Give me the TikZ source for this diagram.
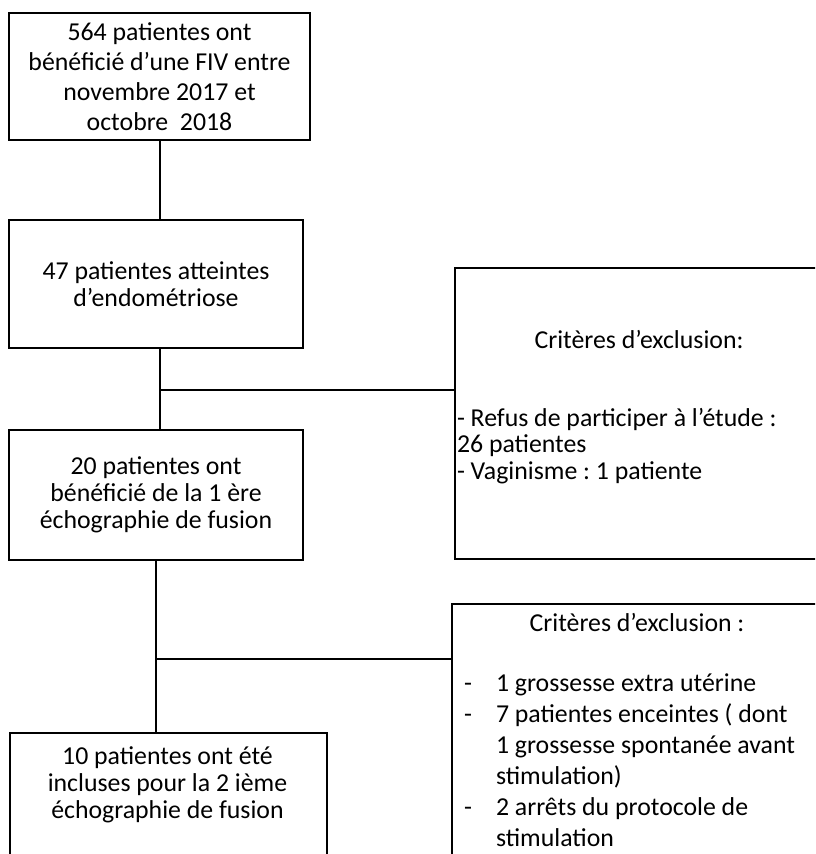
\documentclass[tikz,border=0pt]{standalone}
\usepackage{fontspec}
\setmainfont{Carlito}
\usetikzlibrary{positioning}
\frenchspacing
\newcommand{\itemdash}{\makebox[16pt][l]{-}}
\tikzset{%
    box/.style={draw, line width=1pt, inner sep=0pt, align=center,
        font=\fontsize{12.9}{13.5}\selectfont},
    txt/.style={inner sep=0pt, align=center,
        font=\fontsize{12.9}{13.5}\selectfont}
}

\begin{document}
\begin{tikzpicture}[x=0.5pt,y=-0.5pt,line width=1pt]
    \clip (0,0) rectangle (815,854);
    % left column
    \node[box,minimum width=150.5pt,minimum height=63.5pt,font=\fontsize{12.9}{15}\selectfont] (fiv) at (159.5,76.5) {564 patientes ont\\bénéficié d’une FIV entre\\novembre 2017 et\\octobre \ 2018};
    \node[box,minimum width=147pt,minimum height=64pt] (endo) at (156,284) {47 patientes atteintes\\d’endométriose};
    \node[box,minimum width=147pt,minimum height=65pt] (fus1) at (156,495) {20 patientes ont\\bénéficié de la 1 ère\\échographie de fusion};
    \node[box,anchor=north west,minimum width=158.5pt,minimum height=80pt] (fus2) at (9,732) {};
    \node[txt] (fus2txt) at (167.5,785) {10 patientes ont été\\incluses pour la 2 ième\\échographie de fusion};
    % exclusion boxes
    \node[box,anchor=north west,minimum width=185.5pt,minimum height=145.5pt] (excl1) at (454,267) {};
    \node[txt] (excl1head) at (639,340) {Critères d’exclusion:};
    \node[txt,anchor=west,align=left,font=\fontsize{12.9}{13.25}\selectfont] (excl1list) at (456,446) {- Refus de participer à l’étude :\\26 patientes\\- Vaginisme : 1 patiente};
    \node[box,anchor=north west,minimum width=187pt,minimum height=140pt] (excl2) at (451,603) {};
    \node[txt] (excl2head) at (637,622) {Critères d’exclusion :};
    \node[txt,anchor=west,align=left,font=\fontsize{12.9}{15.5}\selectfont] (excl2list) at (463,760) {\itemdash 1 grossesse extra utérine\\\itemdash 7 patientes enceintes ( dont\\\hspace*{16pt}1 grossesse spontanée avant\\\hspace*{16pt}stimulation)\\\itemdash 2 arrêts du protocole de\\\hspace*{16pt}stimulation};
    % connectors
    \coordinate (spine) at (160,0);
    \coordinate (br1) at (160,390);
    \coordinate (br2) at (156,659);
    \draw (spine |- fiv.south) -- (spine |- endo.north);
    \draw (spine |- endo.south) -- (spine |- fus1.north);
    \draw (br1) -- (br1 -| excl1.west);
    \draw (fus1.south) -- (fus1.south |- fus2.north);
    \draw (br2) -- (br2 -| excl2.west);
\end{tikzpicture}
\end{document}
